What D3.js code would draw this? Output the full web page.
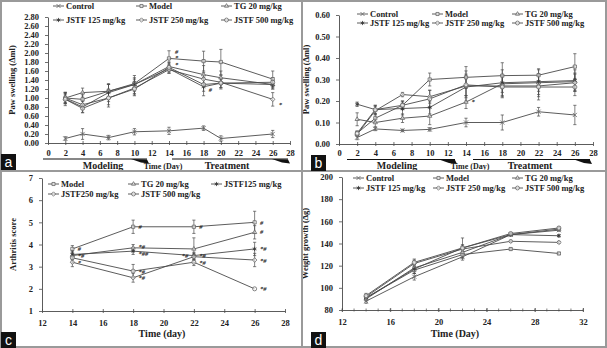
<!DOCTYPE html>
<html>
<head>
<meta charset="utf-8">
<script src="https://cdn.jsdelivr.net/npm/d3@7"></script>
<style>
  body { margin: 0; background: #fff; }
  svg { display: block; }
</style>
</head>
<body>
<svg width="607" height="348"></svg>
<script>
// ---- panel a : paw swelling, primary (ml)
const daysA = [2, 4, 7, 10, 14, 18, 20, 26];
const controlA = [0.10, 0.20, 0.12, 0.25, 0.27, 0.33, 0.10, 0.20];
const modelA   = [1.00, 0.97, 1.15, 1.32, 1.88, 1.82, 1.80, 1.42];
const tgA      = [1.00, 1.12, 1.15, 1.30, 1.70, 1.52, 1.45, 1.30];
const j125A    = [0.98, 0.80, 1.12, 1.30, 1.65, 1.25, 1.33, 1.30];
const j250A    = [1.00, 0.85, 1.00, 1.22, 1.63, 1.42, 1.35, 0.97];
const j500A    = [0.97, 0.77, 1.00, 1.20, 1.68, 1.30, 1.33, 1.35];
const errControlA = [0.04, 0.12, 0.05, 0.07, 0.08, 0.05, 0.06, 0.08];
const errModelA   = [0.10, 0.10, 0.15, 0.10, 0.17, 0.22, 0.28, 0.18];
const errTgA      = [0.12, 0.10, 0.15, 0.20, 0.10, 0.20, 0.15, 0.10];
const errJ125A    = [0.15, 0.12, 0.20, 0.15, 0.10, 0.20, 0.10, 0.10];
const errJ250A    = [0.12, 0.10, 0.20, 0.15, 0.08, 0.15, 0.15, 0.15];
const errJ500A    = [0.10, 0.10, 0.15, 0.15, 0.10, 0.15, 0.10, 0.10];

// ---- panel b : paw swelling, secondary (ml)
const daysB = [2, 4, 7, 10, 14, 18, 22, 26];
const controlB = [0.030, 0.070, 0.063, 0.068, 0.100, 0.100, 0.150, 0.135];
const modelB   = [0.050, 0.120, 0.180, 0.300, 0.310, 0.318, 0.320, 0.360];
const tgB      = [0.115, 0.100, 0.120, 0.130, 0.195, 0.280, 0.285, 0.290];
const j125B    = [0.185, 0.160, 0.165, 0.170, 0.265, 0.285, 0.290, 0.295];
const j250B    = [0.045, 0.155, 0.230, 0.220, 0.270, 0.270, 0.270, 0.285];
const j500B    = [0.050, 0.160, 0.180, 0.210, 0.275, 0.265, 0.265, 0.265];
const errControlB = [0.010, 0.008, 0.006, 0.008, 0.020, 0.035, 0.020, 0.045];
const errModelB   = [0.010, 0.020, 0.020, 0.030, 0.050, 0.060, 0.025, 0.060];
const errTgB      = [0.030, 0.020, 0.020, 0.040, 0.030, 0.040, 0.040, 0.040];
const errJ125B    = [0.010, 0.020, 0.030, 0.030, 0.050, 0.060, 0.060, 0.050];
const errJ250B    = [0.010, 0.020, 0.010, 0.030, 0.070, 0.050, 0.050, 0.040];
const errJ500B    = [0.010, 0.020, 0.020, 0.040, 0.050, 0.050, 0.060, 0.040];

// ---- panel c : arthritis score
const daysC = [14, 18, 22, 26];
const modelC = [3.80, 4.80, 4.80, 5.00];
const tgC    = [3.50, 3.85, 3.80, 4.55];
const j125C  = [3.55, 3.70, 3.50, 3.80];
const j250C  = [3.20, 2.50, 3.45, 3.30];
const j500C  = [3.40, 2.80, 3.20, 2.00];
const errModelC = [0.15, 0.30, 0.30, 0.50];
const errTgC    = [0.20, 0.15, 0.50, 0.30];
const errJ125C  = [0.20, 0.15, 0.15, 0.30];
const errJ250C  = [0.20, 0.20, 0.15, 0.30];
const errJ500C  = [0.20, 0.30, 0.15, 0.00];

// ---- panel d : weight growth (g)
const daysD = [14, 18, 22, 26, 30];
const controlD = [88, 110, 128, 148, 152];
const modelD   = [91, 116, 130, 135, 131];
const tgD      = [90, 118, 132, 148, 153];
const j125D    = [91, 117, 136, 148, 147];
const j250D    = [92, 122, 135, 142, 141];
const j500D    = [93, 123, 136, 149, 154];
const errD     = [2, 3, 3, 1, 1];
const errJ125D = [2, 4, 9, 1, 1];

const namesAB = ["Control", "Model", "TG 20 mg/kg", "JSTF 125 mg/kg", "JSTF 250 mg/kg", "JSTF 500 mg/kg"];
const namesC  = ["Model", "TG 20 mg/kg", "JSTF125 mg/kg", "JSTF250 mg/kg", "JSTF 500 mg/kg"];
const symsAB  = ["times", "square", "triangle", "asterisk", "diamond", "circle"];
const symsC   = ["square", "triangle", "asterisk", "diamond", "circle"];

// significance marks: [day, value, text]
const marksA = [[14.7, 2.02, "#"], [14.7, 1.89, "*"], [14.7, 1.74, "*"], [18.6, 1.18, "#"], [26.7, 0.84, "*"]];
const marksB = [[14.6, 0.195, "*"]];
const marksC = [[14.35, 3.80, "#"], [14.35, 3.50, "*#"], [14.35, 3.16, "*"],
                [18.35, 4.78, "#"], [18.35, 3.88, "*#"], [18.35, 3.58, "*##"], [18.35, 2.78, "*#"], [18.35, 2.48, "*#"],
                [21.2, 3.48, "*#"], [22.35, 4.82, "#"], [22.35, 3.50, "*#"], [22.35, 3.18, "*#"],
                [26.35, 5.00, "#"], [26.35, 4.58, "#"], [26.35, 3.80, "*#"], [26.35, 3.28, "*#"], [26.35, 1.98, "*#"]];

const serif = "'Liberation Serif', 'Times New Roman', serif";
const ink = "#4a4a4a";

const svg = d3.select("svg").style("font-family", serif);
svg.append("rect").attr("width", 607).attr("height", 348).attr("fill", "#fff");

const symbolType = {
  times: d3.symbolTimes || d3.symbolCross,
  square: d3.symbolSquare2 || d3.symbolSquare,
  triangle: d3.symbolTriangle2 || d3.symbolTriangle,
  asterisk: d3.symbolAsterisk || d3.symbolCross,
  diamond: d3.symbolDiamond2 || d3.symbolDiamond,
  circle: d3.symbolCircle
};

function marker(g, sym, x, y, size) {
  g.append("path")
    .attr("transform", `translate(${x},${y})`)
    .attr("d", d3.symbol().type(symbolType[sym]).size(size)())
    .attr("fill", sym === "asterisk" ? "#333" : "#fff")
    .attr("fill-opacity", sym === "asterisk" ? 1 : 0.6)
    .attr("stroke", sym === "asterisk" ? "#333" : "#666")
    .attr("stroke-width", 0.8);
}

function drawPanel(p) {
  const g = svg.append("g");
  const x = d3.scaleLinear().domain(p.xDomain).range([p.left, p.right]);
  const y = d3.scaleLinear().domain(p.yDomain).range([p.bottom, p.top]);

  // y axis
  const ya = g.append("g").attr("transform", `translate(${p.left},0)`)
    .call(d3.axisLeft(y).tickValues(p.yTicks).tickFormat(p.yFmt).tickSizeInner(3).tickSizeOuter(0).tickPadding(6));
  // x axis
  const xa = g.append("g").attr("transform", `translate(0,${p.bottom})`)
    .call(d3.axisBottom(x).tickValues(p.xTicks).tickFormat(d3.format("d")).tickSizeInner(2).tickSizeOuter(0)
      .tickPadding(p.xPad || 7));
  if (p.xMinor) {
    xa.selectAll(".minor").data(p.xMinor).join("line")
      .attr("x1", d => x(d)).attr("x2", d => x(d)).attr("y1", -1.5).attr("y2", 1.5)
      .attr("stroke", ink).attr("stroke-width", 0.7);
  }
  [ya, xa].forEach(a => {
    a.select(".domain").attr("stroke", ink).attr("stroke-width", 0.9);
    a.selectAll(".tick line").attr("stroke", ink).attr("stroke-width", 0.8);
    a.selectAll(".tick text").attr("fill", "#222").style("font-family", serif)
      .style("font-weight", "bold").style("font-size", "8.5px");
  });
  xa.selectAll(".tick line").attr("y1", -2).attr("y2", 2);

  // y title
  g.append("text")
    .attr("transform", `translate(${p.yTitleX},${(p.top + p.bottom) / 2}) rotate(-90)`)
    .attr("text-anchor", "middle").attr("font-weight", "bold").attr("font-size", "8.5px").attr("fill", "#222")
    .text(p.yTitle);

  // series
  const line = d3.line().x(d => x(d[0])).y(d => y(d[1]));
  p.series.forEach(s => {
    const pts = p.days.map((d, i) => [d, s.vals[i], s.err[i]]);
    g.append("path").datum(pts).attr("d", line)
      .attr("fill", "none").attr("stroke", ink).attr("stroke-width", 0.9);
    pts.forEach(([d, v, e]) => {
      if (e > 0) {
        const cx = x(d);
        g.append("path")
          .attr("d", `M${cx},${y(v - e)}V${y(v + e)}M${cx - 1.6},${y(v - e)}H${cx + 1.6}M${cx - 1.6},${y(v + e)}H${cx + 1.6}`)
          .attr("stroke", ink).attr("stroke-width", 0.7).attr("fill", "none");
      }
    });
  });
  p.series.forEach(s => {
    p.days.forEach((d, i) => marker(g, s.sym, x(d), y(s.vals[i]), 13));
  });

  // significance marks
  g.selectAll(".mark").data(p.marks || []).join("text")
    .attr("x", d => x(d[0])).attr("y", d => y(d[1]) + 2.2)
    .attr("font-size", "6.5px").attr("font-weight", "bold").attr("font-style", "italic").attr("fill", "#222")
    .text(d => d[2]);

  // legend
  p.series.forEach((s, i) => {
    const lx = p.legendX[i % 3], ly = p.legendY[Math.floor(i / 3)];
    g.append("line").attr("x1", lx).attr("x2", lx + 11).attr("y1", ly).attr("y2", ly)
      .attr("stroke", ink).attr("stroke-width", 0.9);
    marker(g, s.sym, lx + 5.5, ly, 12);
    g.append("text").attr("x", lx + 13).attr("y", ly + 3)
      .attr("font-size", "8.5px").attr("font-weight", "bold").attr("fill", "#222").text(s.name);
  });
  return { x, y, g };
}

function phaseBar(g, x0, x1, y) {
  g.append("line").attr("x1", x0).attr("x2", x1).attr("y1", y).attr("y2", y)
    .attr("stroke", "#111").attr("stroke-width", 1.2);
  g.append("path")
    .attr("d", `M${x1 - 16},${y}L${x1},${y + 0.5}L${x1 + 2},${y + 4.5}L${x1 - 6},${y + 3.5}Z`)
    .attr("fill", "#111");
}

function phaseLabels(g, cfg) {
  phaseBar(g, cfg.bar1[0], cfg.bar1[1], cfg.barY);
  phaseBar(g, cfg.bar2[0], cfg.bar2[1], cfg.barY);
  g.append("text").attr("x", cfg.modX).attr("y", cfg.barY + 9.5).attr("text-anchor", "middle")
    .attr("font-size", "10px").attr("font-weight", "bold").attr("fill", "#222").text("Modeling");
  g.append("text").attr("x", cfg.treatX).attr("y", cfg.barY + 9.5).attr("text-anchor", "middle")
    .attr("font-size", "10px").attr("font-weight", "bold").attr("fill", "#222").text("Treatment");
  g.append("text").attr("x", cfg.timeX).attr("y", cfg.barY + 9.5).attr("text-anchor", "middle")
    .attr("font-size", "8px").attr("font-weight", "bold").attr("fill", "#222").text("Time (Day)");
}

const sixSeries = (vals, errs) => namesAB.map((n, i) => ({ name: n, sym: symsAB[i], vals: vals[i], err: errs[i] }));

const pa = drawPanel({
  left: 48, right: 290, top: 17, bottom: 143, xPad: 5,
  xDomain: [0, 28], yDomain: [0, 2.8],
  xTicks: d3.range(0, 29, 2), yTicks: d3.range(0, 2.81, 0.2), yFmt: d3.format(".2f"),
  yTitle: "Paw swelling (\u0394ml)", yTitleX: 15,
  days: daysA,
  series: sixSeries([controlA, modelA, tgA, j125A, j250A, j500A],
                    [errControlA, errModelA, errTgA, errJ125A, errJ250A, errJ500A]),
  marks: marksA,
  legendX: [53, 136, 221], legendY: [6, 20]
});
phaseLabels(pa.g, { bar1: [43, 147], bar2: [172, 288], barY: 159, modX: 103, treatX: 227, timeX: 163 });

const pb = drawPanel({
  left: 339, right: 593, top: 15, bottom: 144, xPad: 4,
  xDomain: [0, 28], yDomain: [0, 0.6],
  xTicks: d3.range(0, 29, 2), yTicks: d3.range(0, 0.61, 0.1), yFmt: d3.format(".2f"),
  yTitle: "Paw swelling (\u0394ml)", yTitleX: 309,
  days: daysB,
  series: sixSeries([controlB, modelB, tgB, j125B, j250B, j500B],
                    [errControlB, errModelB, errTgB, errJ125B, errJ250B, errJ500B]),
  marks: marksB,
  legendX: [357, 432, 512], legendY: [14, 23]
});
phaseLabels(pb.g, { bar1: [347, 455], bar2: [473, 590], barY: 159.5, modX: 397, treatX: 530, timeX: 470 });

const pc = drawPanel({
  left: 42, right: 285, top: 178, bottom: 311,
  xDomain: [12, 28], yDomain: [1, 7],
  xTicks: d3.range(12, 29, 2), yTicks: d3.range(1, 8, 1), yFmt: d3.format("d"),
  yTitle: "Arthritis score", yTitleX: 16,
  days: daysC,
  series: namesC.map((n, i) => ({ name: n, sym: symsC[i],
    vals: [modelC, tgC, j125C, j250C, j500C][i], err: [errModelC, errTgC, errJ125C, errJ250C, errJ500C][i] })),
  marks: marksC,
  legendX: [48, 128, 211], legendY: [184, 194]
});
pc.g.append("text").attr("x", 162).attr("y", 337).attr("text-anchor", "middle")
  .attr("font-size", "10px").attr("font-weight", "bold").attr("fill", "#222").text("Time (day)");

const pd = drawPanel({
  left: 342, right: 583, top: 177, bottom: 310,
  xDomain: [12, 32], yDomain: [80, 200],
  xTicks: d3.range(12, 33, 4), xMinor: d3.range(12, 33, 1), yTicks: d3.range(80, 201, 20), yFmt: d3.format("d"),
  yTitle: "Weight growth (\u0394g)", yTitleX: 308,
  days: daysD,
  series: sixSeries([controlD, modelD, tgD, j125D, j250D, j500D],
                    [errD, errD, errD, errJ125D, errD, errD]),
  legendX: [353, 433, 512], legendY: [178, 188]
});
pd.g.append("text").attr("x", 455).attr("y", 337).attr("text-anchor", "middle")
  .attr("font-size", "10px").attr("font-weight", "bold").attr("fill", "#222").text("Time (Day)");

// panel frame
const frame = svg.append("g").attr("fill", "none").attr("stroke", "#9a9a9a").attr("stroke-width", 2);
frame.append("rect").attr("x", 1).attr("y", 1).attr("width", 605).attr("height", 346);
frame.append("line").attr("x1", 302).attr("x2", 302).attr("y1", 0).attr("y2", 348);
frame.append("line").attr("x1", 0).attr("x2", 607).attr("y1", 171).attr("y2", 171);

// panel letters
[["a", 1, 154], ["b", 311, 155], ["c", 1, 332], ["d", 311, 332]].forEach(([t, bx, by]) => {
  svg.append("rect").attr("x", bx).attr("y", by).attr("width", 15).attr("height", 16).attr("fill", "#111");
  svg.append("text").attr("x", bx + 7.5).attr("y", by + 12.5).attr("text-anchor", "middle")
    .attr("font-family", "'Liberation Sans', Arial, sans-serif").attr("font-size", "14px").attr("fill", "#fff").text(t);
});
</script>
</body>
</html>
